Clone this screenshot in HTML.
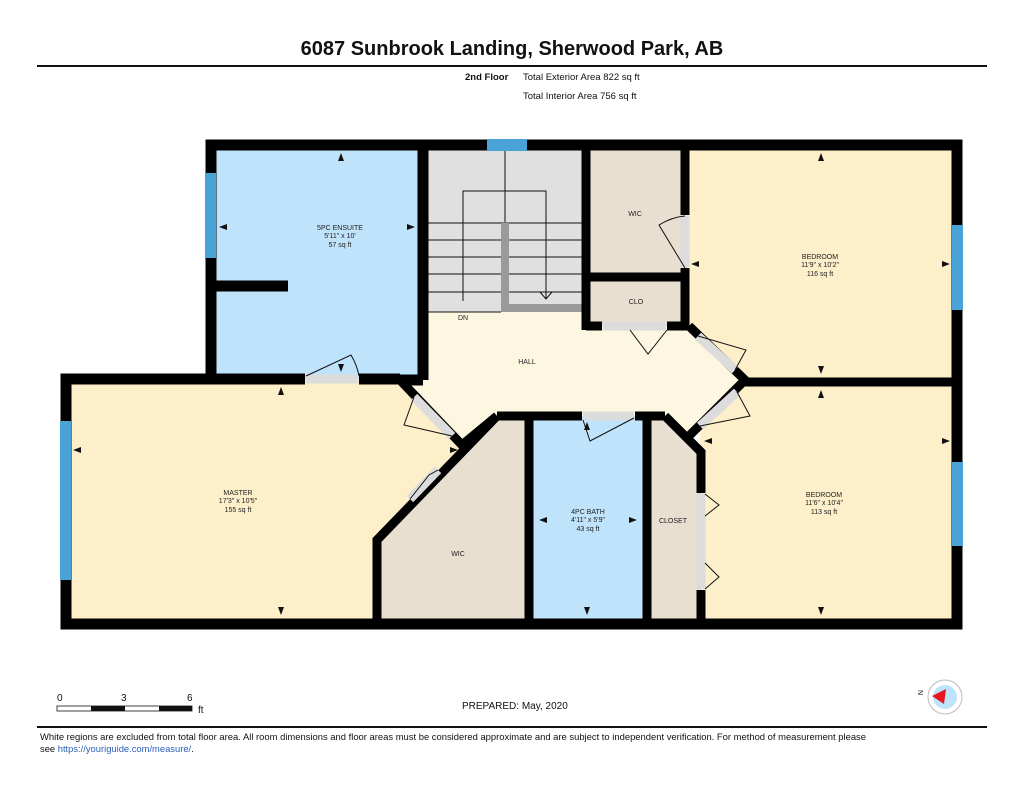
<!DOCTYPE html>
<html><head><meta charset="utf-8"><style>
html,body{margin:0;padding:0;background:#fff;}
svg{display:block;font-family:"Liberation Sans",Arial,sans-serif;}
</style></head><body>
<svg width="1024" height="791" viewBox="0 0 1024 791" xmlns="http://www.w3.org/2000/svg">
<rect width="1024" height="791" fill="#fff"/>
<text x="512" y="55" font-size="20" font-weight="bold" text-anchor="middle" fill="#111">6087 Sunbrook Landing, Sherwood Park, AB</text>
<rect x="37" y="65" width="950" height="2" fill="#111"/>
<text x="465" y="80" font-size="9.5" font-weight="bold" fill="#111">2nd Floor</text>
<text x="523" y="80" font-size="9.5" fill="#111">Total Exterior Area 822 sq ft</text>
<text x="523" y="99" font-size="9.5" fill="#111">Total Interior Area 756 sq ft</text>

<rect x="211" y="145" width="212" height="234" fill="#bfe3fb"/>
<rect x="423" y="145" width="163" height="180" fill="#e0e0e0"/>
<rect x="586" y="145" width="99" height="132" fill="#e8dfd1"/>
<rect x="586" y="277" width="99" height="49" fill="#e8dfd1"/>
<rect x="685" y="145" width="272" height="238" fill="#fcefca"/>
<rect x="700" y="383" width="257" height="240" fill="#fcefca"/>
<polygon points="66,379 400,379 462,445 377,540 377,623 66,623" fill="#fcefca"/>
<polygon points="423,312 586,312 586,326 685,326 745,380 690,435 665,416 497,416 460,445 400,380 423,380" fill="#fdf7e1"/>
<polygon points="497,416 529,416 529,623 377,623 377,540" fill="#e8dfd1"/>
<rect x="529" y="416" width="118" height="207" fill="#bfe3fb"/>
<polygon points="647,416 665,416 701,452 701,623 647,623" fill="#e8dfd1"/>

<g stroke="#111" stroke-width="1" fill="none">
<line x1="428" y1="223" x2="582" y2="223"/><line x1="428" y1="240" x2="582" y2="240"/>
<line x1="428" y1="257" x2="582" y2="257"/><line x1="428" y1="274" x2="582" y2="274"/>
<line x1="428" y1="292" x2="582" y2="292"/>
<line x1="428" y1="312" x2="501" y2="312"/>
<polyline points="463,301 463,191 546,191 546,298"/>
<polyline points="540,292 546,299 552,292"/>
<line x1="505" y1="151" x2="505" y2="222"/>
</g>
<rect x="501" y="223" width="8" height="89" fill="#9a9a9a"/>
<rect x="501" y="304" width="81" height="8" fill="#9a9a9a"/>

<g stroke="#000" stroke-width="11" fill="none" stroke-linejoin="miter">
<polyline points="211,384 211,145 957,145 957,624 66,624 66,379 305,379"/>
<line x1="359" y1="379" x2="400" y2="379"/>
<line x1="423" y1="145" x2="423" y2="380"/>
<line x1="423" y1="380" x2="400" y2="380"/>
<line x1="211" y1="286" x2="288" y2="286"/>
</g>
<g stroke="#000" stroke-width="9" fill="none">
<line x1="586" y1="145" x2="586" y2="330"/>
<line x1="586" y1="326" x2="602" y2="326"/>
<line x1="667" y1="326" x2="689" y2="326"/>
<line x1="685" y1="145" x2="685" y2="215"/>
<line x1="685" y1="268" x2="685" y2="330"/>
<line x1="586" y1="277" x2="685" y2="277"/>
<line x1="745" y1="382" x2="957" y2="382"/>
<line x1="529" y1="416" x2="529" y2="623"/>
<line x1="647" y1="416" x2="647" y2="623"/>
<line x1="497" y1="416" x2="582" y2="416"/>
<line x1="635" y1="416" x2="665" y2="416"/>
<polyline points="665,416 701,452 701,493"/>
<line x1="701" y1="590" x2="701" y2="623"/>
<polyline points="497,416 377,540 377,623"/>
<polyline points="689,326 745,380 690,435"/>
<polyline points="400,380 462,445 497,416"/>
</g>
<g stroke="#dcdcdc" stroke-width="9">
<line x1="306" y1="379" x2="358" y2="379"/>
<line x1="685" y1="216" x2="685" y2="267"/>
<line x1="603" y1="326" x2="666" y2="326"/>
<line x1="583" y1="416" x2="634" y2="416"/>
<line x1="701" y1="494" x2="701" y2="589"/>
<line x1="698" y1="336" x2="735" y2="370"/>
<line x1="737" y1="392" x2="700" y2="426"/>
<line x1="414" y1="397" x2="452" y2="436"/>
<line x1="438" y1="470" x2="410" y2="499"/>
</g>
<g fill="#4aa3d6">
<rect x="205" y="173" width="11" height="85"/>
<rect x="487" y="139" width="40" height="12"/>
<rect x="952" y="225" width="11" height="85"/>
<rect x="952" y="462" width="11" height="84"/>
<rect x="60" y="421" width="11" height="159"/>
</g>
<g stroke="#111" stroke-width="1" fill="none">
<path d="M306,376 L351,355 Q357,365 359,376"/>
<path d="M685,268 L659,225 Q672,217 685,216"/>
<path d="M667,330 L648,354 L630,330"/>
<path d="M698,336 L746,350 L735,370"/>
<path d="M737,392 L750,416 L700,426"/>
<path d="M452,436 L404,425 L414,397"/>
<path d="M438,470 L429,475 L410,499"/>
<path d="M583,420 L590,441 L634,418"/>
<path d="M705,494 L719,505 L705,516"/>
<path d="M705,563 L719,577 L705,589"/>
</g>
<g fill="#111">
<polygon points="341,153 338,161 344,161"/><polygon points="219,227 227,224 227,230"/><polygon points="415,227 407,224 407,230"/>
<polygon points="821,153 818,161 824,161"/><polygon points="821,374 818,366 824,366"/><polygon points="691,264 699,261 699,267"/><polygon points="950,264 942,261 942,267"/>
<polygon points="821,390 818,398 824,398"/><polygon points="821,615 818,607 824,607"/><polygon points="704,441 712,438 712,444"/><polygon points="950,441 942,438 942,444"/>
<polygon points="281,387 278,395 284,395"/><polygon points="281,615 278,607 284,607"/><polygon points="73,450 81,447 81,453"/><polygon points="458,450 450,447 450,453"/>
<polygon points="587,422 584,430 590,430"/><polygon points="587,615 584,607 590,607"/><polygon points="539,520 547,517 547,523"/><polygon points="637,520 629,517 629,523"/>
<polygon points="341,372 338,364 344,364"/>
</g>
<g font-size="7" fill="#222" text-anchor="middle">
<text x="340" y="230">5PC ENSUITE</text><text x="340" y="238">5'11" x 10'</text><text x="340" y="247">57 sq ft</text>
<text x="635" y="216">WIC</text>
<text x="636" y="304">CLO</text>
<text x="463" y="320">DN</text>
<text x="527" y="364">HALL</text>
<text x="820" y="259">BEDROOM</text><text x="820" y="267">11'9" x 10'2"</text><text x="820" y="276">116 sq ft</text>
<text x="824" y="497">BEDROOM</text><text x="824" y="505">11'6" x 10'4"</text><text x="824" y="514">113 sq ft</text>
<text x="238" y="495">MASTER</text><text x="238" y="503">17'3" x 10'5"</text><text x="238" y="512">155 sq ft</text>
<text x="588" y="514">4PC BATH</text><text x="588" y="522">4'11" x 5'9"</text><text x="588" y="531">43 sq ft</text>
<text x="673" y="523">CLOSET</text>
<text x="458" y="556">WIC</text>
</g>
<g font-size="10" fill="#111">
<text x="57" y="701">0</text><text x="121" y="701">3</text><text x="187" y="701">6</text>
<text x="198" y="713">ft</text>
<text x="462" y="709">PREPARED: May, 2020</text>
</g>
<rect x="57" y="706" width="135" height="5" fill="#fff" stroke="#111" stroke-width="0.8"/>
<rect x="91" y="706" width="34" height="5" fill="#111"/><rect x="159" y="706" width="33" height="5" fill="#111"/>
<circle cx="945" cy="697" r="17" fill="#fff" stroke="#bbb"/>
<circle cx="945" cy="697" r="12" fill="#bfe3fb"/>
<polygon points="932,696 946,689 944,704" fill="#e8161d"/>
<text x="918" y="694" font-size="7" transform="rotate(90 920 692)" fill="#111">N</text>
<rect x="37" y="726" width="950" height="2" fill="#111"/>
<text x="40" y="740" font-size="9.4" fill="#111" textLength="826" lengthAdjust="spacingAndGlyphs">White regions are excluded from total floor area. All room dimensions and floor areas must be considered approximate and are subject to independent verification. For method of measurement please</text>
<text x="40" y="752" font-size="9.4" fill="#111">see <tspan fill="#2a5fb8">https://youriguide.com/measure/</tspan>.</text>
</svg>
</body></html>
